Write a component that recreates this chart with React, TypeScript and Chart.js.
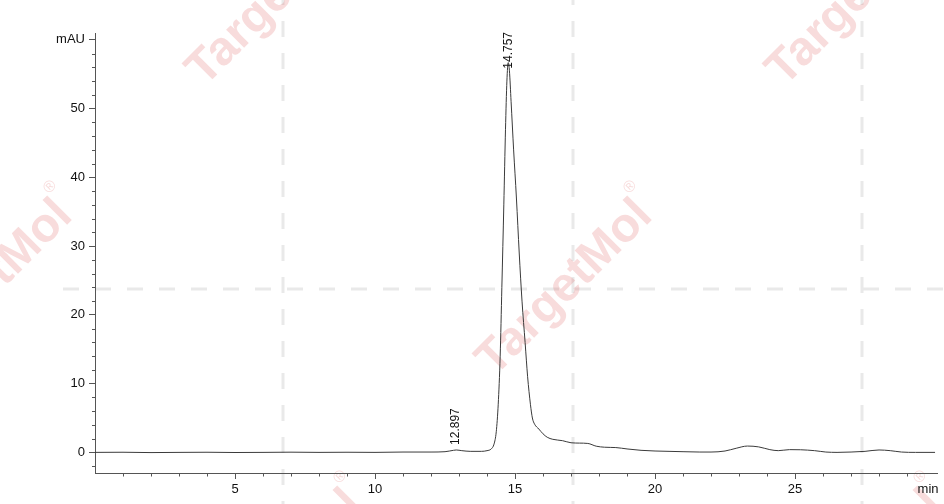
import React, { useEffect, useRef } from "react";
import { Chart, registerables } from "chart.js";

Chart.register(...registerables);

// Retention time (min) and absorbance (mAU)
const times = [
  0, 1, 2, 3, 4, 5, 6, 7, 8, 9, 10, 11, 12, 12.5, 12.8, 12.9, 13.1, 13.4, 13.8,
  14.0, 14.15, 14.25, 14.33, 14.4, 14.47, 14.53, 14.6, 14.66, 14.71, 14.757,
  14.8, 14.86, 14.95, 15.05, 15.15, 15.25, 15.36, 15.45, 15.55, 15.62, 15.7,
  15.85, 16.0, 16.15, 16.35, 16.7, 17.0, 17.3, 17.6, 17.9, 18.2, 18.6, 19.0,
  19.5, 20.0, 20.5, 21.0, 21.6, 22.0, 22.5, 22.9, 23.3, 23.7, 24.1, 24.4, 24.8,
  25.2, 25.7, 26.1, 26.5, 27.0, 27.5, 28.0, 28.4, 28.8, 29.3, 30.0,
];
const signal = [
  0.0, 0.02, -0.03, 0.0, 0.02, -0.02, 0.0, 0.03, 0.0, 0.02, 0.0, 0.05, 0.05,
  0.1, 0.3, 0.35, 0.25, 0.15, 0.15, 0.25, 0.5, 1.2, 3.0, 7, 14, 24, 36, 47, 54,
  56.7, 55.5, 51, 44, 37, 29, 22, 16, 11, 7, 5, 4.1, 3.4, 2.7, 2.2, 1.9, 1.7,
  1.4, 1.35, 1.3, 0.9, 0.75, 0.7, 0.5, 0.3, 0.2, 0.15, 0.1, 0.05, 0.05, 0.2,
  0.6, 0.92, 0.8, 0.4, 0.25, 0.4, 0.38, 0.25, 0.05, 0.0, 0.05, 0.15, 0.35,
  0.25, 0.05, 0.0, 0.0,
];

const xTickValues = [5, 10, 15, 20, 25];
const yTickValues = [0, 10, 20, 30, 40, 50, 60];
const xUnitLabel = "min";
const xUnitPos = 29.75;
const yUnitLabel = "mAU";
const peakTimes = [12.897, 14.757];

const FONT = '"Liberation Sans", Arial, sans-serif';
const AXIS = "#555555";

const watermarkPlugin = {
  id: "watermark",
  beforeDraw(chart: any) {
    const ctx = chart.ctx;
    const W = chart.width;
    const H = chart.height;
    ctx.save();
    // dashed guide lines
    ctx.strokeStyle = "#e9e9e9";
    ctx.lineWidth = 3;
    ctx.setLineDash([16, 16]);
    ctx.lineDashOffset = 11;
    [283, 573, 862].forEach((x) => {
      ctx.beginPath();
      ctx.moveTo(x, 0);
      ctx.lineTo(x, H);
      ctx.stroke();
    });
    ctx.lineDashOffset = 17;
    ctx.beginPath();
    ctx.moveTo(48, 289);
    ctx.lineTo(W, 289);
    ctx.stroke();
    ctx.setLineDash([]);
    // text watermarks
    const centers = [
      [565, 288],
      [275, -2],
      [855, -2],
      [-15, 288],
      [1145, 288],
      [275, 578],
      [855, 578],
    ];
    ctx.fillStyle = "rgba(220,80,80,0.2)";
    centers.forEach(([cx, cy]) => {
      ctx.save();
      ctx.translate(cx, cy);
      ctx.rotate(-Math.PI / 4);
      ctx.font = 'bold 48px "Liberation Sans", sans-serif';
      ctx.textAlign = "center";
      ctx.textBaseline = "middle";
      ctx.fillText("TargetMol", 0, 0);
      ctx.restore();
      ctx.save();
      ctx.translate(cx + 65, cy - 101);
      ctx.rotate(-Math.PI / 4);
      ctx.font = '16px "Liberation Sans", sans-serif';
      ctx.textAlign = "center";
      ctx.textBaseline = "middle";
      ctx.fillText("\u00AE", 0, 0);
      ctx.restore();
    });
    ctx.restore();
  },
};

const minorTicksPlugin = {
  id: "minorTicks",
  afterDraw(chart: any) {
    const ctx = chart.ctx;
    const xs = chart.scales.x;
    const ys = chart.scales.y;
    const area = chart.chartArea;
    ctx.save();
    ctx.strokeStyle = AXIS;
    ctx.lineWidth = 1;
    ctx.beginPath();
    for (let v = -2; v <= 60; v += 2) {
      if (v % 10 === 0) continue;
      const y = Math.round(ys.getPixelForValue(v)) + 0.5;
      ctx.moveTo(area.left - 3, y);
      ctx.lineTo(area.left, y);
    }
    for (let v = 1; v < 30; v += 1) {
      if (v % 5 === 0) continue;
      const x = Math.round(xs.getPixelForValue(v)) + 0.5;
      ctx.moveTo(x, area.bottom);
      ctx.lineTo(x, area.bottom + 3.5);
    }
    ctx.stroke();
    ctx.restore();
  },
};

const peakLabelPlugin = {
  id: "peakLabels",
  afterDatasetsDraw(chart: any) {
    const ctx = chart.ctx;
    const xs = chart.scales.x;
    const ys = chart.scales.y;
    const area = chart.chartArea;
    ctx.save();
    ctx.font = `12px ${FONT}`;
    ctx.fillStyle = "#111";
    ctx.textAlign = "left";
    ctx.textBaseline = "middle";
    peakTimes.forEach((t) => {
      let h = -Infinity;
      times.forEach((tt, i) => {
        if (Math.abs(tt - t) <= 0.1) h = Math.max(h, signal[i]);
      });
      const label = t.toFixed(3);
      const w = ctx.measureText(label).width;
      const px = xs.getPixelForValue(t);
      const py = ys.getPixelForValue(h);
      const anchor = Math.max(py - 5, area.top + w - 1);
      ctx.save();
      ctx.translate(px, anchor);
      ctx.rotate(-Math.PI / 2);
      ctx.fillText(label, 0, 0);
      ctx.restore();
    });
    ctx.restore();
  },
};

export default function App() {
  const ref = useRef<HTMLCanvasElement | null>(null);

  useEffect(() => {
    if (!ref.current) return;
    const chart = new Chart(ref.current, {
      type: "line",
      data: {
        datasets: [
          {
            data: times.map((t, i) => ({ x: t, y: signal[i] })),
            borderColor: "#3a3a3a",
            borderWidth: 1,
            pointRadius: 0,
            cubicInterpolationMode: "monotone",
            fill: false,
          },
        ],
      },
      options: {
        animation: false,
        responsive: false,
        devicePixelRatio: 1,
        layout: { padding: { left: 0, right: 7, top: 33, bottom: 0 } },
        plugins: {
          legend: { display: false },
          tooltip: { enabled: false },
        },
        scales: {
          x: {
            type: "linear",
            min: 0,
            max: 30.07,
            afterBuildTicks: (s: any) => {
              s.ticks = [...xTickValues, xUnitPos].map((v) => ({ value: v }));
            },
            afterFit: (s: any) => {
              s.height = 31;
              s.paddingLeft = 0;
              s.paddingRight = 0;
            },
            ticks: {
              autoSkip: false,
              maxRotation: 0,
              padding: 3,
              color: "#111",
              font: { family: FONT, size: 13 },
              callback: (v: any) => (v === xUnitPos ? xUnitLabel : String(v)),
            },
            grid: {
              drawOnChartArea: false,
              drawTicks: true,
              tickLength: 6,
              tickColor: (c: any) =>
                c.tick && c.tick.value === xUnitPos ? "rgba(0,0,0,0)" : AXIS,
            },
            border: { color: AXIS, width: 1 },
          },
          y: {
            type: "linear",
            min: -3,
            max: 61,
            afterBuildTicks: (s: any) => {
              s.ticks = yTickValues.map((v) => ({ value: v }));
            },
            afterFit: (s: any) => {
              s.width = 95;
              s.paddingTop = 0;
              s.paddingBottom = 0;
            },
            ticks: {
              autoSkip: false,
              padding: 4,
              color: "#111",
              font: { family: FONT, size: 13 },
              callback: (v: any) => (v === 60 ? yUnitLabel : String(v)),
            },
            grid: {
              drawOnChartArea: false,
              drawTicks: true,
              tickLength: 6,
              tickColor: AXIS,
            },
            border: { color: AXIS, width: 1 },
          },
        },
      },
      plugins: [watermarkPlugin, minorTicksPlugin, peakLabelPlugin],
    } as any);
    return () => chart.destroy();
  }, []);

  return (
    <div style={{ position: "absolute", left: 0, top: 0, width: 944, height: 504, background: "#fff" }}>
      <canvas ref={ref} width={944} height={504} style={{ width: 944, height: 504, display: "block" }} />
    </div>
  );
}
